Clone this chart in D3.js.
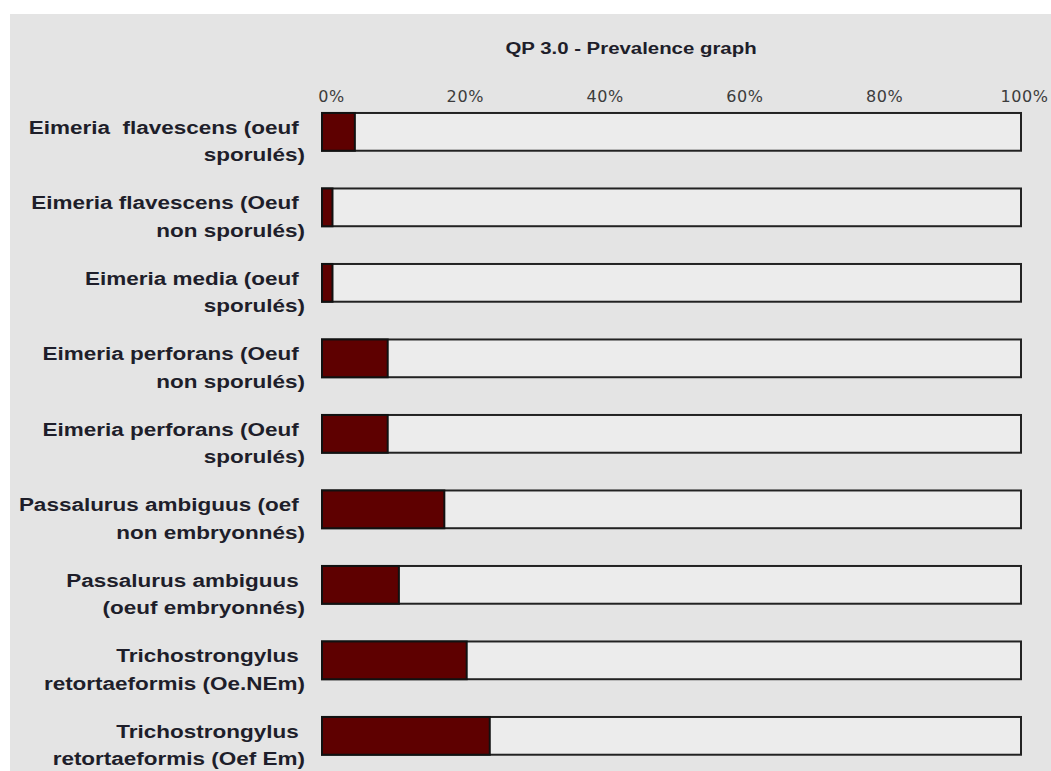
<!DOCTYPE html>
<html>
<head>
<meta charset="utf-8">
<script src="https://cdn.jsdelivr.net/npm/d3@7"></script>
<style>
  body { margin: 0; background: #fff; }
  svg { display: block; }
  text { white-space: pre; }
</style>
</head>
<body>
<script>
// categories (two-line labels as shown on the chart)
const labels = [
    ["Eimeria  flavescens (oeuf ", "sporulés)"],
    ["Eimeria flavescens (Oeuf ", "non sporulés)"],
    ["Eimeria media (oeuf ", "sporulés)"],
    ["Eimeria perforans (Oeuf ", "non sporulés)"],
    ["Eimeria perforans (Oeuf ", "sporulés)"],
    ["Passalurus ambiguus (oef ", "non embryonnés)"],
    ["Passalurus ambiguus ", "(oeuf embryonnés)"],
    ["Trichostrongylus ", "retortaeformis (Oe.NEm)"],
    ["Trichostrongylus ", "retortaeformis (Oef Em)"]
];
// prevalence in %
const prevalence = [4.7, 1.5, 1.5, 9.4, 9.4, 17.5, 11, 20.7, 24];
const tickValues = [0, 20, 40, 60, 80, 100];
const title = "QP 3.0 - Prevalence graph";

const width = 1051;
const height = 771;

const svg = d3.select("body").append("svg")
    .attr("width", width)
    .attr("height", height);

// grey panel
svg.append("rect")
    .attr("x", 10)
    .attr("y", 14)
    .attr("width", width - 10)
    .attr("height", height - 14)
    .attr("fill", "#e4e4e4");

const xScale = d3.scaleLinear()
    .domain([0, 100])
    .range([322, 1021]);

const yScale = d3.scaleBand()
    .domain(d3.range(labels.length))
    .range([94.1, 773.6])
    .paddingInner(0.5)
    .paddingOuter(0.25);

// the source text looks horizontally stretched
svg.append("text")
    .attr("transform", "translate(631, 54) scale(1.2, 1)")
    .attr("text-anchor", "middle")
    .style("font-family", "Liberation Sans, Arial, sans-serif")
    .style("font-weight", "bold")
    .style("font-size", "17px")
    .attr("fill", "#1e1e2a")
    .text(title);

const xAxis = d3.axisTop(xScale)
    .tickValues(tickValues)
    .tickSize(0)
    .tickPadding(0)
    .tickFormat(d => d + "%");

const axisG = svg.append("g")
    .attr("transform", "translate(0, 102)")
    .call(xAxis);
axisG.select(".domain").remove();
axisG.selectAll("text")
    .attr("dx", d => d === 0 ? 9 : 3)
    .style("font-family", "DejaVu Sans, sans-serif")
    .style("font-size", "16px")
    .style("letter-spacing", "0.6px")
    .attr("fill", "#3c3c3c");

const rows = svg.selectAll(".row")
    .data(prevalence)
    .enter()
    .append("g")
    .attr("class", "row");

// full 0-100% background bar
rows.append("rect")
    .attr("x", xScale(0))
    .attr("y", (d, i) => yScale(i))
    .attr("width", xScale(100) - xScale(0))
    .attr("height", yScale.bandwidth())
    .attr("fill", "#ececec")
    .attr("stroke", "#222")
    .attr("stroke-width", 2);

// prevalence bar
rows.append("rect")
    .attr("x", xScale(0))
    .attr("y", (d, i) => yScale(i))
    .attr("width", d => xScale(d) - xScale(0))
    .attr("height", yScale.bandwidth())
    .attr("fill", "#5e0000")
    .attr("stroke", "#111")
    .attr("stroke-width", 2);

// labels
rows.each(function (d, i) {
    const cy = yScale(i) + yScale.bandwidth() / 2;
    const t = d3.select(this).append("text")
        .attr("transform", `translate(305, ${cy}) scale(1.25, 1)`)
        .attr("text-anchor", "end")
        .style("font-family", "Liberation Sans, Arial, sans-serif")
        .style("font-weight", "bold")
        .style("font-size", "18px")
        .attr("fill", "#1e1e2a");
    t.append("tspan")
        .attr("x", 0)
        .attr("y", 2)
        .text(labels[i][0]);
    t.append("tspan")
        .attr("x", 0)
        .attr("y", 29.5)
        .text(labels[i][1]);
});
</script>
</body>
</html>
